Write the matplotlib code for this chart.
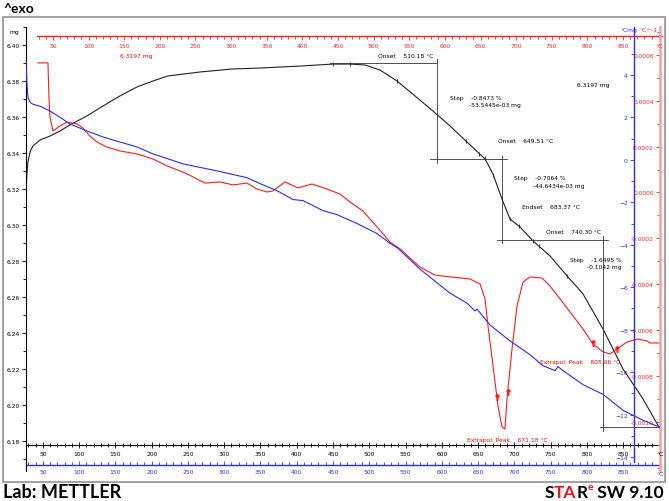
import numpy as np
import matplotlib
matplotlib.use('Agg')
import matplotlib.pyplot as plt
from matplotlib.ticker import MultipleLocator, FixedLocator, FormatStrFormatter
from matplotlib.patches import Rectangle

# TGA curve (mass, mg) vs temperature (°C)
tga_temp = [26.6, 27.9, 29.3, 32.1, 36.2, 45.9, 59.7, 73.4, 87.2, 110.7,
            132.8, 156.2, 179.7, 201.7, 222.4, 266.6, 312.1, 349.3, 404.5, 450.0,
            473.4, 494.1, 514.8, 538.3, 563.1, 587.9, 611.4, 634.8, 659.7, 670.7,
            683.1, 694.1, 707.9, 725.9, 749.3, 772.8, 794.8, 822.4, 850.0, 877.6,
            901.0]
tga_mass = [6.3200, 6.3283, 6.3350, 6.3406, 6.3439, 6.3472, 6.3494, 6.3522, 6.3556, 6.3606,
            6.3661, 6.3717, 6.3767, 6.3800, 6.3828, 6.3850, 6.3867, 6.3872, 6.3883, 6.3894,
            6.3894, 6.3889, 6.3861, 6.3800, 6.3717, 6.3633, 6.3550, 6.3461, 6.3367, 6.3283,
            6.3144, 6.3033, 6.2989, 6.2911, 6.2828, 6.2717, 6.2617, 6.2422, 6.2200, 6.2033,
            6.1867]

# DTA curve (blue axis)
dta_temp = [26.6, 27.9, 29.3, 32.1, 36.2, 45.9, 59.7, 73.4, 87.2, 110.7,
            132.8, 156.2, 179.7, 201.7, 222.4, 243.1, 290.0, 331.4, 349.3, 372.8,
            394.8, 408.6, 436.2, 455.5, 483.1, 510.7, 528.6, 539.7, 570.0, 611.4,
            634.8, 645.9, 648.6, 666.6, 694.1, 721.7, 739.7, 756.2, 760.3, 767.2,
            794.8, 822.4, 850.0, 877.6, 901.0]
dta_val = [4.64, 3.65, 2.95, 2.72, 2.62, 2.53, 2.30, 2.01, 1.69, 1.36,
           1.08, 0.84, 0.61, 0.28, 0.05, -0.19, -0.52, -0.84, -1.12, -1.45,
           -1.87, -1.92, -2.39, -2.58, -3.00, -3.47, -3.93, -4.17, -5.15, -6.28,
           -6.75, -7.12, -7.03, -7.78, -8.53, -9.18, -9.70, -9.93, -9.74, -9.93,
           -10.59, -11.05, -11.80, -12.27, -12.60]

# DTG curve (red axis, x1e-4)
dtg_temp = [43.1, 56.9, 58.3, 59.7, 63.8, 73.4, 83.1, 96.9, 105.2, 114.8,
            124.5, 138.3, 156.2, 179.7, 201.7, 221.0, 243.1, 256.9, 273.4, 294.1,
            312.1, 331.4, 345.2, 359.0, 367.2, 383.8, 401.7, 421.0, 441.7, 459.7,
            473.4, 491.4, 510.7, 528.6, 542.4, 570.0, 590.7, 611.4, 639.0, 652.8,
            659.7, 663.8, 670.7, 677.6, 683.1, 687.2, 690.0, 696.9, 703.8, 712.1,
            721.7, 738.3, 749.3, 763.1, 776.9, 794.8, 808.6, 822.4, 832.1, 841.7,
            855.5, 869.3, 883.1, 887.2, 901.0]
dtg_e4 = [5.65, 5.65, 4.08, 3.29, 2.68, 2.90, 3.07, 2.99, 2.81, 2.46,
          2.20, 1.98, 1.81, 1.68, 1.46, 1.16, 0.89, 0.68, 0.41, 0.46,
          0.33, 0.41, 0.15, 0.02, 0.07, 0.46, 0.20, 0.37, 0.15, -0.07,
          -0.41, -0.81, -1.50, -2.16, -2.46, -3.25, -3.60, -3.68, -3.77, -3.99,
          -4.64, -5.82, -7.56, -9.31, -10.22, -10.31, -9.00, -6.82, -4.95, -3.90,
          -3.68, -3.73, -4.08, -4.64, -5.21, -5.95, -6.61, -6.95, -7.04, -6.82,
          -6.52, -6.39, -6.47, -6.56, -6.56]
dtg_val = [v * 1e-4 for v in dtg_e4]

# step evaluation
start_mass = 6.3900
step_mg = [0.0535445, 0.0446434, 0.1042]
step_limit_temp = [593.4, 683.1, 822.4]
level_spans = [(446, 594), (584, 690), (676, 829), (818, 905)]
tga_marks = [450, 473, 538, 634, 652, 659, 671, 683, 694, 707, 726, 734, 773]
dtg_marks = [676, 691, 808, 842]

annotations = [
    (512, 6.3939, 'Onset    510.18 °C', 'k'),
    (612, 6.3711, 'Step    -0.8473 %', 'k'),
    (637, 6.3667, '-53.5445e-03 mg', 'k'),
    (786, 6.3783, '6.3197 mg', 'k'),
    (677, 6.3467, 'Onset    649.51 °C', 'k'),
    (700, 6.3261, 'Step    -0.7064 %', 'k'),
    (726, 6.3217, '-44.6434e-03 mg', 'k'),
    (711, 6.3100, 'Endset    683.37 °C', 'k'),
    (744, 6.2961, 'Onset    740.30 °C', 'k'),
    (777, 6.2806, 'Step    -1.6495 %', 'k'),
    (800, 6.2772, '-0.1042 mg', 'k'),
    (735, 6.2239, 'Extrapol. Peak    805.06 °C', 'red'),
    (635, 6.1806, 'Extrapol. Peak    671.18 °C', 'red'),
    (156, 6.3939, '6.3197 mg', 'red'),
]

# top (reference) temperature scale relative to the bottom one
TOP_OFFSET, TOP_SCALE = 35.96, 1.01754

W, H = 669, 502
BLUE = '#2b2bff'
RED = '#ff2020'
FS = 4.3

fig = plt.figure(figsize=(W / 100, H / 100), dpi=100)


def fx(px):
    return px / W


def fy(py):
    return 1 - py / H


def ay(py):
    return (472 - py) / 444


ax = fig.add_axes([fx(26), fy(472), fx(660) - fx(26), fy(28) - fy(472)])
ax.patch.set_visible(False)
ax.set_xlim(26.6, 901.0)
ax.set_ylim(6.1633, 6.41)

# black mass axis
ax.spines[['top', 'right']].set_visible(False)
ax.spines['left'].set_linewidth(0.8)
ax.spines['bottom'].set_position(('axes', ay(446)))
ax.spines['bottom'].set_linewidth(0.8)
ax.yaxis.set_major_locator(MultipleLocator(0.02))
ax.yaxis.set_minor_locator(MultipleLocator(0.01))
ax.yaxis.set_major_formatter(FormatStrFormatter('%.2f'))
ax.xaxis.set_major_locator(FixedLocator(np.arange(50, 851, 50)))
ax.xaxis.set_minor_locator(FixedLocator(np.arange(30, 900, 10)))
ax.tick_params(axis='y', which='major', length=3, width=0.6, labelsize=FS, pad=1.5)
ax.tick_params(axis='y', which='minor', length=2, width=0.6)
ax.tick_params(axis='x', which='major', direction='inout', length=4, width=0.6,
               labelsize=FS, pad=2)
ax.tick_params(axis='x', which='minor', direction='inout', length=2.5, width=0.6)

ax.plot(tga_temp, tga_mass, color='#222222', lw=0.8)
ax.plot(tga_marks, np.interp(tga_marks, tga_temp, tga_mass), ls='none',
        marker='|', ms=3, mew=0.6, color='#222222')

# step construction lines
levels = [start_mass]
for s in step_mg:
    levels.append(levels[-1] - s)
for lev, (t0, t1) in zip(levels, level_spans):
    ax.plot([t0, t1], [lev, lev], color='#333333', lw=0.6, clip_on=True)
for i, t in enumerate(step_limit_temp):
    ax.plot([t, t], [levels[i] + 0.002, levels[i + 1] - 0.002], color='#333333', lw=0.6)

for t, m, s, c in annotations:
    ax.text(t, m, s, color=c, fontsize=FS, va='center', ha='left')

# blue bottom temperature axis
secb = ax.secondary_xaxis(ay(466))
secb.set_alignment('bottom')
secb.spines['bottom'].set_color(BLUE)
secb.spines['bottom'].set_linewidth(1.0)
secb.xaxis.set_major_locator(FixedLocator(np.arange(50, 851, 50)))
secb.xaxis.set_minor_locator(FixedLocator(np.arange(30, 900, 10)))
secb.tick_params(axis='x', which='major', direction='in', length=3, width=0.6,
                 colors=BLUE, labelsize=FS, pad=3)
secb.tick_params(axis='x', which='minor', direction='in', length=2, width=0.6, colors=BLUE)

# red top temperature axis
sect = ax.secondary_xaxis(ay(37), functions=(
    lambda t: TOP_OFFSET + (t - 50) * TOP_SCALE,
    lambda u: 50 + (u - TOP_OFFSET) / TOP_SCALE))
sect.set_alignment('bottom')
sect.spines['bottom'].set_color(RED)
sect.spines['bottom'].set_linewidth(1.0)
sect.spines['bottom'].set_bounds(27.5, 905)
sect.xaxis.set_major_locator(FixedLocator(np.arange(50, 851, 50)))
sect.xaxis.set_minor_locator(FixedLocator(np.arange(30, 900, 10)))
sect.tick_params(axis='x', which='major', direction='out', length=3, width=0.6,
                 colors=RED, labelsize=FS, pad=2)
sect.tick_params(axis='x', which='minor', direction='out', length=2, width=0.6, colors=RED)

# red DTG axis at far right
axr = ax.twinx()
axr.set_ylim(-0.0012142, 0.0007215)
axr.spines[['top', 'bottom', 'right']].set_visible(False)
axr.spines['left'].set_position(('axes', 1.0))
axr.spines['left'].set_color('#ff9c9c')
axr.spines['left'].set_linewidth(1.8)
axr.yaxis.set_ticks_position('left')
axr.yaxis.set_major_locator(FixedLocator(np.arange(-10, 7, 2) * 1e-4))
axr.yaxis.set_minor_locator(FixedLocator(np.arange(-12, 8, 1) * 1e-4))
axr.yaxis.set_major_formatter(FormatStrFormatter('%.4f'))
axr.tick_params(axis='y', which='major', length=3, width=0.6, colors=RED,
                labelsize=FS, pad=1.5, left=True, right=False,
                labelleft=True, labelright=False)
axr.tick_params(axis='y', which='minor', length=2, width=0.6, colors=RED,
                left=True, right=False)
axr.plot(dtg_temp, dtg_val, color='#ff1a1a', lw=0.8)
axr.plot(dtg_marks, np.interp(dtg_marks, dtg_temp, dtg_val), ls='none',
         marker=r'$\uparrow$', ms=4, color='#ff1a1a')

# blue DTA axis
axb = ax.twinx()
axb.set_ylim(-14.66, 6.26)
axb.spines[['top', 'bottom', 'right']].set_visible(False)
axb.spines['left'].set_position(('axes', 608 / 634))
axb.spines['left'].set_color(BLUE)
axb.spines['left'].set_linewidth(1.0)
axb.spines['left'].set_bounds(-14.24, 6.26)
axb.yaxis.set_ticks_position('left')
axb.yaxis.set_major_locator(FixedLocator(np.arange(-14, 5, 2)))
axb.yaxis.set_minor_locator(FixedLocator(np.arange(-13, 6, 2)))
axb.tick_params(axis='y', which='major', length=3, width=0.6, colors=BLUE,
                labelsize=FS, pad=1.5, left=True, right=False,
                labelleft=True, labelright=False)
axb.tick_params(axis='y', which='minor', length=2, width=0.6, colors=BLUE,
                left=True, right=False)
axb.plot(dta_temp, dta_val, color=BLUE, lw=0.8)

# units
fig.text(fx(9), fy(33), 'mg', fontsize=FS, va='center')
fig.text(fx(655), fy(47), '°C', fontsize=FS, va='center', color=RED)
fig.text(fx(656), fy(455), '°C', fontsize=FS, va='center', color='k')
fig.text(fx(656), fy(475), '°C', fontsize=FS, va='center', color=BLUE)
fig.text(fx(620), fy(31), '°Cmg', fontsize=FS, va='center', color=BLUE)
fig.text(fx(639), fy(31), '°C^-1', fontsize=FS, va='center', color=RED)

# frame and headers
fig.patches.append(Rectangle((fx(3), fy(483)), fx(662), 465 / H, transform=fig.transFigure,
                             fill=False, ec='#9a9a9a', lw=1.3))
fig.text(fx(3), fy(9), '^exo', fontsize=10, fontweight='bold', family='Lato', va='center')
fig.text(fx(3), fy(493), 'Lab: METTLER', fontsize=13, fontweight='bold', family='Lato',
         va='center')

# STARe SW 9.10, right aligned at the frame edge
renderer = fig.canvas.get_renderer()
logo_parts = [('S', 'k', 12.5, 0), ('TA', '#e8141e', 12.5, 0), ('R', 'k', 12.5, 0),
              ('e', '#e8141e', 7.5, 5), (' SW 9.10', 'k', 12.5, 0)]
logo_texts = []
for s, c, size, dy in logo_parts:
    t = fig.text(0, fy(493) + dy / H, s, fontsize=size, fontweight='bold',
                 family='Lato', color=c, va='center')
    logo_texts.append(t)
widths = [t.get_window_extent(renderer).width / fig.bbox.width for t in logo_texts]
x = fx(664) - sum(widths)
for t, w in zip(logo_texts, widths):
    t.set_x(x)
    x += w

fig.savefig('out.png', dpi=100)
